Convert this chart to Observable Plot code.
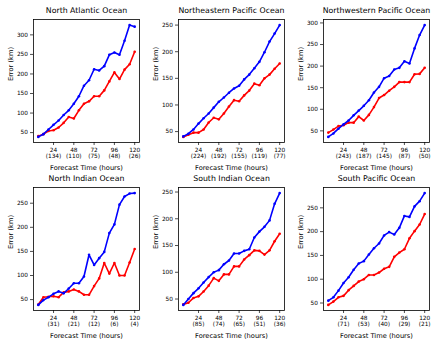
<!DOCTYPE html>
<html>
<head>
<meta charset="utf-8">
<script src="https://cdn.jsdelivr.net/npm/d3@7"></script>
<script src="https://cdn.jsdelivr.net/npm/@observablehq/plot@0.6"></script>
<style>
  html, body { margin: 0; padding: 0; background: #fff; }
  #wrap { position: relative; width: 436px; height: 346px; overflow: hidden; }
  #wrap > svg { position: absolute; }
</style>
</head>
<body>
<div id="wrap"></div>
<script>
const hours = [6,12,18,24,30,36,42,48,54,60,66,72,78,84,90,96,102,108,114,120];
const xTicks = [24,48,72,96,120];

const titles = ["North Atlantic Ocean","Northeastern Pacific Ocean","Northwestern Pacific Ocean",
                "North Indian Ocean","South Indian Ocean","South Pacific Ocean"];

const naBlue = [39,46,58,70,81,95,107,124,143,170,184,212,209,220,249,255,249,285,325,321];
const naRed  = [41,46,54,56,63,75,90,86,107,124,130,143,143,158,181,204,187,211,225,257];
const naCounts = [134,110,75,48,26];

const nepBlue = [41,46,54,65,75,84,95,106,114,123,131,136,148,157,169,181,199,219,234,250];
const nepRed  = [40,44,48,48,54,67,76,73,84,97,109,107,118,127,140,137,150,157,168,178];
const nepCounts = [224,192,155,119,77];

const nwpBlue = [36,44,55,65,74,86,97,108,121,139,152,172,177,192,196,211,206,241,272,295];
const nwpRed  = [46,53,61,63,69,69,83,74,87,105,126,133,143,152,163,163,163,181,182,196];
const nwpCounts = [243,187,145,87,50];

const niBlue = [39,49,55,62,67,63,73,84,84,98,143,122,136,149,188,206,247,264,270,271];
const niRed  = [40,55,56,57,55,65,67,71,67,60,60,78,94,126,104,126,100,100,127,155];
const niCounts = [31,21,12,6,4];

const siBlue = [39,50,61,70,81,91,100,104,115,122,135,135,140,143,165,176,185,197,228,248];
const siRed  = [40,43,52,55,64,75,89,84,96,96,111,111,124,132,141,140,133,141,158,172];
const siCounts = [85,74,65,51,36];

const spBlue = [55,62,76,92,104,120,133,138,152,165,175,192,199,194,208,233,231,253,264,281];
const spRed  = [46,53,62,65,77,86,95,100,109,109,114,122,126,147,156,163,186,201,215,237];
const spCounts = [71,53,40,29,21];

const yTicks1 = [50,100,150,200,250,300];
const yTicks2 = [50,100,150,200,250];

const panels = [
  {title: titles[0], blue: naBlue, red: naRed, counts: naCounts, ticks: yTicks1},
  {title: titles[1], blue: nepBlue, red: nepRed, counts: nepCounts, ticks: yTicks2},
  {title: titles[2], blue: nwpBlue, red: nwpRed, counts: nwpCounts, ticks: yTicks1},
  {title: titles[3], blue: niBlue, red: niRed, counts: niCounts, ticks: yTicks2},
  {title: titles[4], blue: siBlue, red: siRed, counts: siCounts, ticks: yTicks2},
  {title: titles[5], blue: spBlue, red: spRed, counts: spCounts, ticks: yTicks2}
];

const BLUE = "#0000ff", RED = "#ff0000";
const FONT = "DejaVu Sans";

function pad(lo, hi) { const r = hi - lo; return [lo - 0.05 * r, hi + 0.05 * r]; }

const wrap = document.getElementById("wrap");
panels.forEach((p, i) => {
  const col = i % 3, row = Math.floor(i / 3);
  const top = row === 0 ? 0 : 170;
  const height = row === 0 ? 170 : 176;
  const mt = row === 0 ? 19 : 17;
  const mb = row === 0 ? 28 : 36;
  const blueData = hours.map((h, k) => ({h, v: p.blue[k]}));
  const redData = hours.map((h, k) => ({h, v: p.red[k]}));
  const all = p.blue.concat(p.red);
  const yDom = pad(d3.min(all), d3.max(all));
  const xDom = pad(d3.min(hours), d3.max(hours));
  const countMap = new Map(xTicks.map((t, k) => [t, p.counts[k]]));
  const chart = Plot.plot({
    width: 145,
    height,
    marginLeft: 33,
    marginRight: 6,
    marginTop: mt,
    marginBottom: mb,
    style: {fontFamily: FONT, background: "transparent", overflow: "visible"},
    x: {domain: xDom},
    y: {domain: yDom},
    marks: [
      Plot.axisX({ticks: xTicks, tickSize: 3, tickPadding: 1.5, fontSize: 5.8, label: null,
                  lineHeight: 1.1,
                  tickFormat: t => `${t}\n(${countMap.get(t)})`, fill: "#000", stroke: "#000", strokeWidth: 0.7}),
      Plot.axisY({ticks: p.ticks, tickSize: 3, tickPadding: 2.5, fontSize: 5.8, label: null,
                  fill: "#000", stroke: "#000", strokeWidth: 0.7}),
      Plot.line(redData, {x: "h", y: "v", stroke: RED, strokeWidth: 1.6}),
      Plot.dot(redData, {x: "h", y: "v", fill: RED, r: 1.3}),
      Plot.line(blueData, {x: "h", y: "v", stroke: BLUE, strokeWidth: 1.6}),
      Plot.dot(blueData, {x: "h", y: "v", fill: BLUE, r: 1.3}),
      Plot.frame({stroke: "#000", strokeWidth: 0.8}),
      Plot.text([p.title], {frameAnchor: "top", dy: -9, fontSize: 7.8, fill: "#000", lineAnchor: "middle"}),
      Plot.text(["Forecast Time (hours)"], {frameAnchor: "bottom", dy: 25.5, fontSize: 6.7, fill: "#000", lineAnchor: "middle"}),
      Plot.text(["Error (km)"], {frameAnchor: "left", dx: -23, rotate: -90, fontSize: 6.7, fill: "#000", lineAnchor: "middle"})
    ]
  });
  chart.style.left = (col * 145) + "px";
  chart.style.top = top + "px";
  wrap.appendChild(chart);
});
</script>
</body>
</html>
